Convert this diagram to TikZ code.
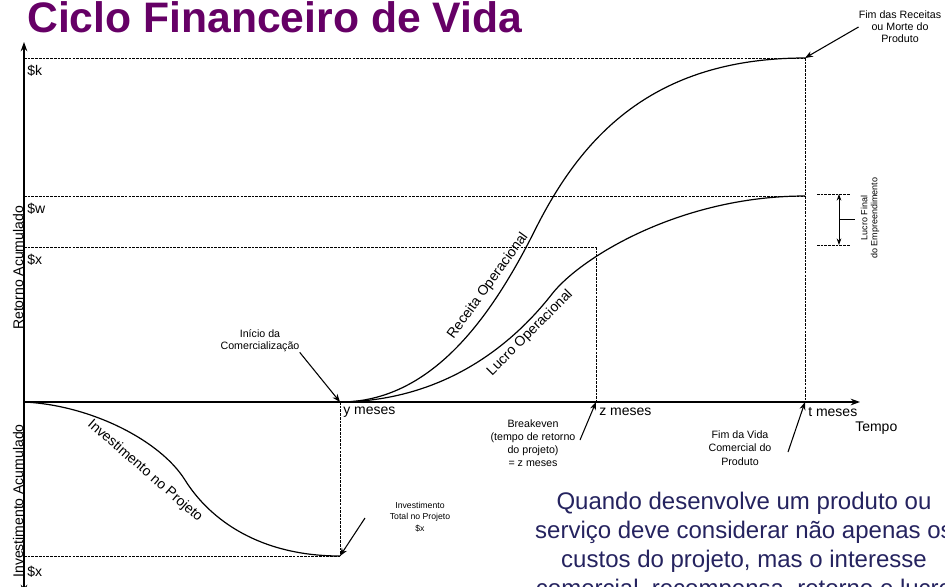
\documentclass[tikz,border=0pt]{standalone}
\usepackage{fontspec}
\setmainfont{Liberation Sans}
\usetikzlibrary{arrows.meta}
\definecolor{titlepurple}{HTML}{660066}
\definecolor{navytext}{HTML}{25235F}
\begin{document}
\begin{tikzpicture}[x=0.75pt,y=-0.75pt,
  axisline/.style={line width=0.9pt},
  guide/.style={line width=0.6pt, dash pattern=on 2pt off 0.8pt},
  curveline/.style={line width=0.9pt},
  lead/.style={line width=0.8pt,-{Stealth[length=6pt,width=4.5pt]}},
  smalllbl/.style={font=\fontsize{8}{9}\selectfont, align=center, inner sep=0pt},
  tinylbl/.style={font=\fontsize{6.5}{8.6}\selectfont, align=center, inner sep=0pt},
  lbl/.style={font=\fontsize{10.5}{12}\selectfont, inner sep=0pt},
  paraline/.style={font=\fontsize{18}{21}\selectfont, text=navytext, inner sep=0pt, anchor=base}]

\useasboundingbox (0,0) rectangle (945,586);
\clip (0,0) rectangle (945,586);

% key points
\coordinate (O) at (24,402);
\coordinate (ytop) at (24,42);
\coordinate (ybot) at (24,594);
\coordinate (tend) at (860,402);
\coordinate (Y) at (340,402);
\coordinate (Ybot) at (340,556);
\coordinate (Z) at (596,402);
\coordinate (Zx) at (596,247);
\coordinate (T) at (805,402);
\coordinate (Tk) at (805,58);
\coordinate (Tw) at (805,196);
\coordinate (Kl) at (24,58);
\coordinate (Wl) at (24,196);
\coordinate (Xl) at (24,247);
\coordinate (Bl) at (24,556);

% title
\node[anchor=base west, inner sep=0pt, font=\bfseries\fontsize{32}{34}\selectfont, text=titlepurple] (title) at (27,32) {Ciclo Financeiro de Vida};

% guides
\draw[guide] (Kl) -- (Tk);
\draw[guide] (Wl) -- (Tw);
\draw[guide] (Xl) -- (Zx);
\draw[guide] (Bl) -- (Ybot);
\draw[guide] (Y) -- (Ybot);
\draw[guide] (Zx) -- (Z);
\draw[guide] (Tk) -- (T);

% axes
\draw[axisline,{Stealth[length=7pt,width=5pt]}-{Stealth[length=7pt,width=5pt]}] (ybot) -- (ytop);
\draw[axisline,-{Stealth[length=7pt,width=5pt]}] (O) -- (tend);

% curves
\draw[curveline] (Y) .. controls (430,402) and (490,320) .. (535,230) .. controls (580,140) and (650,58) .. (Tk);
\draw[curveline] (Y) .. controls (435,401) and (505,354) .. (552,294) .. controls (580,258) and (680,196) .. (Tw);
\draw[curveline] (O) .. controls (90,405) and (160,440) .. (185,480) .. controls (210,520) and (260,556) .. (Ybot);

% curve labels
\node[lbl, rotate=54] (receita) at (488,286) {Receita Operacional};
\node[lbl, rotate=45] (lucro) at (530,333) {Lucro Operacional};
\node[lbl, rotate=-41] (invproj) at (145,471) {Investimento no Projeto};

% axis value labels
\node[lbl, anchor=west] (lk) at (27,71) {\$k};
\node[lbl, anchor=west] (lw) at (27,209) {\$w};
\node[lbl, anchor=west] (lx) at (27,260) {\$x};
\node[lbl, anchor=west] (lbx) at (27,572) {\$x};
\node[lbl, rotate=90, anchor=base] (retac) at (23,268) {Retorno Acumulado};
\node[lbl, rotate=90, anchor=base] (invac) at (23,501) {Investimento Acumulado};

\node[lbl, anchor=west] (ym) at (343,412) {y meses};
\node[lbl, anchor=west] (zm) at (599,412) {z meses};
\node[lbl, anchor=west] (tm) at (808,412) {t meses};
\node[lbl, anchor=west] (tempo) at (855,428) {Tempo};

% annotations
\node[smalllbl] (fimrec) at (900,27) {Fim das Receitas\\ou Morte do\\Produto};
\draw[lead] (fimrec.west) -- (Tk);

\node[smalllbl] (inicio) at (260,341) {Início da\\Comercialização};
\draw[lead] (inicio.south east) -- (Y);

\node[smalllbl, font=\fontsize{8}{9.8}\selectfont] (breakeven) at (533,443) {Breakeven\\(tempo de retorno\\do projeto)\\= z meses};
\coordinate (bkstart) at (580,440);
\draw[lead] (bkstart) -- (Z);

\node[smalllbl, font=\fontsize{8}{10}\selectfont] (fimvida) at (740,448) {Fim da Vida\\Comercial do\\Produto};
\coordinate (fvstart) at (788,452);
\draw[lead] (fvstart) -- (T);

\node[tinylbl] (invtot) at (420,517) {Investimento\\Total no Projeto\\\$x};
\coordinate (itstart) at (365,518);
\draw[lead] (itstart) -- (Ybot);

% lucro final bracket
\coordinate (lfa1) at (817,194);
\coordinate (lfa2) at (850,194);
\coordinate (lfb1) at (817,245);
\coordinate (lfb2) at (850,245);
\coordinate (lftop) at (839,194);
\coordinate (lfbot) at (839,245);
\coordinate (lfmid) at (839,219);
\coordinate (lftick) at (855,219);
\draw[guide] (lfa1) -- (lfa2);
\draw[guide] (lfb1) -- (lfb2);
\draw[line width=0.6pt,{Stealth[length=5pt,width=3.5pt]}-{Stealth[length=5pt,width=3.5pt]}] (lftop) -- (lfbot);
\draw[line width=0.5pt] (lfmid) -- (lftick);
\node[rotate=90, align=center, inner sep=0pt, font=\fontsize{6.75}{7.5}\selectfont] (lucrofinal) at (870,218) {Lucro Final\\do Empreendimento};

% paragraph
\node[paraline] (p1) at (744,509) {Quando desenvolve um produto ou};
\node[paraline] (p2) at (744,538) {serviço deve considerar não apenas os};
\node[paraline] (p3) at (744,567) {custos do projeto, mas o interesse};
\node[paraline] (p4) at (744,596) {comercial, recompensa, retorno e lucro};
\end{tikzpicture}
\end{document}
